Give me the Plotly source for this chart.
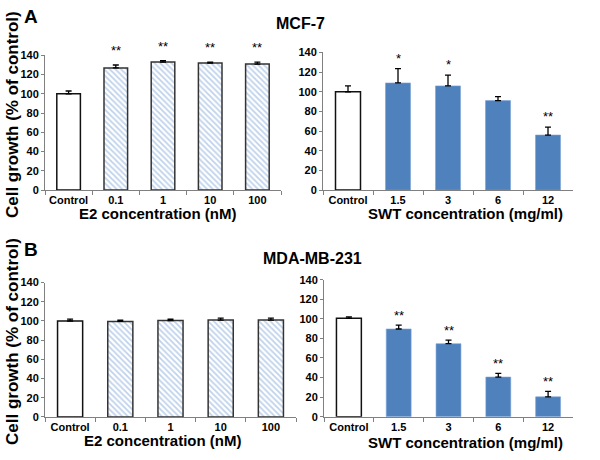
import plotly.graph_objects as go

# ---------------- data ----------------
e2_categories = ["Control", "0.1", "1", "10", "100"]
swt_categories = ["Control", "1.5", "3", "6", "12"]

mcf7_e2_values = [100, 127, 133, 132, 131]
mcf7_e2_errors = [3, 3, 1.5, 1, 2]
mcf7_e2_stars = ["", "**", "**", "**", "**"]

mcf7_swt_values = [100, 109, 106, 91, 56]
mcf7_swt_errors = [6, 14.5, 11, 4, 8]
mcf7_swt_stars = ["", "*", "*", "", "**"]

mda_e2_values = [100, 99.5, 100.5, 101, 101]
mda_e2_errors = [2, 1.5, 1.5, 2, 2]
mda_e2_stars = ["", "", "", "", ""]

mda_swt_values = [100.5, 89.6, 74.6, 40.5, 20.3]
mda_swt_errors = [1.5, 4, 3.7, 3.7, 5.6]
mda_swt_stars = ["", "**", "**", "**", "**"]

y_ticks = [0, 20, 40, 60, 80, 100, 120, 140]

# ---------------- style ----------------
W, H = 600, 460
FONT = "Arial, Liberation Sans, Helvetica, sans-serif"
BLUE = "#4f81bd"
HATCH = "#7ea6d8"
AXIS = "#808080"


def px_x(p):
    return p / W


def px_y(p):
    return 1 - p / H


fig = go.Figure()

panels = [
    (e2_categories, mcf7_e2_values, mcf7_e2_errors, mcf7_e2_stars, "e2", "x", "y", (45, 281), (189, 50.7), 5),
    (swt_categories, mcf7_swt_values, mcf7_swt_errors, mcf7_swt_stars, "swt", "x2", "y2", (323, 573), (189, 47.7), 1),
    (e2_categories, mda_e2_values, mda_e2_errors, mda_e2_stars, "e2", "x3", "y3", (45, 296), (422, 284), 0),
    (swt_categories, mda_swt_values, mda_swt_errors, mda_swt_stars, "swt", "x4", "y4", (324, 573), (421.7, 281), 0),
]

annotations = []
for i, (cats, vals, errs, stars, kind, xa, ya, xdom, ydom, shift) in enumerate(panels):
    n = len(cats)
    err_style = dict(type="data", symmetric=False, color="black", thickness=1.3, width=3)
    fig.add_trace(go.Bar(
        x=cats[:1], y=vals[:1], xaxis=xa, yaxis=ya, width=0.5,
        marker=dict(color="white", line=dict(color="#111111", width=1.5)),
        error_y=dict(array=errs[:1], arrayminus=[0], **err_style),
        showlegend=False, hoverinfo="skip",
    ))
    if kind == "e2":
        marker = dict(
            color="white",
            line=dict(color="#333333", width=1.5),
            pattern=dict(shape="\\", fgcolor=HATCH, bgcolor="white",
                         size=4, solidity=0.45),
        )
    else:
        marker = dict(color=BLUE, line=dict(color="#7aa2d6", width=0.6))
    fig.add_trace(go.Bar(
        x=cats[1:], y=vals[1:], xaxis=xa, yaxis=ya, width=0.5,
        marker=marker,
        error_y=dict(array=errs[1:], arrayminus=[0] * (n - 1), **err_style),
        showlegend=False, hoverinfo="skip",
    ))
    sfx = "" if i == 0 else str(i + 1)
    fig.update_layout(**{
        "xaxis" + sfx: dict(
            domain=[px_x(xdom[0]), px_x(xdom[1])], anchor=ya,
            type="category", categoryorder="array", categoryarray=cats,
            range=[-0.5, n - 0.5], tickangle=0,
            showline=True, linecolor=AXIS, linewidth=1,
            ticks="outside", tickson="boundaries", ticklen=4, tickcolor=AXIS,
            showgrid=False, zeroline=False,
            tickfont=dict(family=FONT, size=11, color="black", weight="bold"),
        ),
        "yaxis" + sfx: dict(
            domain=[px_y(ydom[0]), px_y(ydom[1])], anchor=xa,
            range=[0, 140], tickvals=y_ticks,
            showline=True, linecolor=AXIS, linewidth=1,
            ticks="outside", ticklen=3, tickcolor=AXIS,
            showgrid=False, zeroline=False,
            tickfont=dict(family=FONT, size=11, color="black", weight="bold"),
        ),
    })
    for idx, (v, e, s) in enumerate(zip(vals, errs, stars)):
        if s:
            annotations.append(dict(
                x=idx, y=v + e, xref=xa, yref=ya, text=s, showarrow=False,
                yanchor="bottom", yshift=shift,
                font=dict(family=FONT, size=13, color="black"),
            ))

x_titles = [
    ("E2 concentration (nM)", 158, 213),
    ("SWT concentration (mg/ml)", 466, 213),
    ("E2 concentration (nM)", 163, 446),
    ("SWT concentration (mg/ml)", 466, 448),
]
for t, cx, cy in x_titles:
    annotations.append(dict(
        x=px_x(cx), y=px_y(cy), xref="paper", yref="paper", text=t,
        showarrow=False, xanchor="center", yanchor="middle",
        font=dict(family=FONT, size=15, color="black", weight="bold"),
    ))

for cy in (112, 345):
    annotations.append(dict(
        x=px_x(12), y=px_y(cy), xref="paper", yref="paper",
        text="Cell growth (% of control)", textangle=-90, showarrow=False,
        xanchor="center", yanchor="middle",
        font=dict(family=FONT, size=17, color="black", weight="bold"),
    ))

for t, cx, cy, sz in [("A", 31, 11, 19), ("B", 31, 250, 19),
                      ("MCF-7", 300, 18, 16), ("MDA-MB-231", 313, 259, 16)]:
    annotations.append(dict(
        x=px_x(cx), y=px_y(cy), xref="paper", yref="paper", text=t,
        showarrow=False, xanchor="center", yanchor="middle",
        font=dict(family=FONT, size=sz, color="black", weight="bold"),
    ))

fig.update_layout(
    width=W, height=H,
    margin=dict(l=0, r=0, t=0, b=0),
    paper_bgcolor="white", plot_bgcolor="white",
    barmode="overlay",
    annotations=annotations,
    font=dict(family=FONT),
)

fig.write_html(
    "out.html",
    config={"displayModeBar": False},
    post_script="document.body.style.margin='0';document.body.style.overflow='hidden';",
)
